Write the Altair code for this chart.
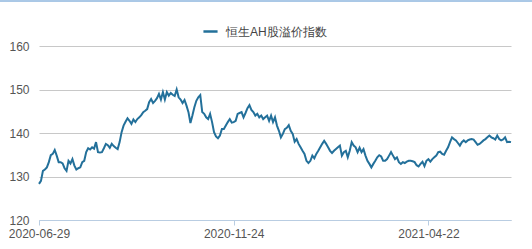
import altair as alt
import pandas as pd

series_name = "恒生AH股溢价指数"

seg1 = [128.3, 129, 131.3, 131.6, 132.1, 133.3, 134.9, 135.2, 136.1, 134.8,
        133.3, 133.3, 133, 131.9, 131.3, 133.6, 133, 134, 132.5, 131.6,
        131.9, 132.1, 133.3, 133.6, 135.6, 136.5, 136.2, 136.7, 136.4, 137.9,
        135.6, 135.5, 135.6, 136.5, 137.5, 137.2, 136.6, 137.5, 137, 136.6]
seg2 = [136.3, 137.9, 140.2, 141.7, 142.6, 143.4, 142.8, 142.1, 143.1,
        142.5, 143.2, 143.6, 144.1, 144.8, 145.1, 145.5, 147.1, 147.8, 146.9,
        147.4, 148, 149, 147.7, 149.4, 147.7, 149.4, 148.6, 149.2, 148.8,
        148.5, 150, 148.2, 147.7, 146.9, 147.6, 146.3, 144.8, 142.3,
        144, 145.9, 147.4]
seg3 = [148.2, 148.7, 144.8, 144.4, 143.6, 143.2, 144.4, 142.5, 140.2, 139.2,
        138.8, 139.4, 140.9, 140.9, 141.7, 142.5, 143.2, 142.4, 142.5, 142.8,
        144.4, 144.6, 144.8, 143.6, 144.6, 145.7, 146.4, 145.3, 144.8, 144,
        144.4, 143.6, 144, 143.2, 143.6, 144, 142.8, 144, 142.5, 143.6, 141.7]
seg4 = [140.5, 139, 139.8, 140.9, 141.2, 141.8, 140.5, 139.8, 138, 138.6,
        137.5, 136.7, 135.9, 135.2, 133.6, 133.1, 133.6, 134.8, 134.2, 135.2,
        135.9, 136.7, 137.5, 138.2, 137.5, 136.7, 135.9, 135.4, 135.9, 136.3,
        136.7, 137.1, 134.8, 135.6, 135.9, 134.4, 135.9, 137.9, 137.1, 136.7,
        135.6]
seg5 = [136.6, 135.6, 136.3, 134.8, 133.6, 132.9, 132.1, 132.9, 133.6, 134.4,
        134.9, 134.6, 133.6, 133.6, 134, 134.8, 135.6, 134.8, 134, 134.4,
        133.3, 132.9, 133.3, 133.1, 133.4, 133.6, 133.6, 133.5, 133.3, 132.6,
        132.3, 132.9, 133.4, 132.4, 133.6, 134, 133.4, 134, 134.4, 134.8,
        135.6]
seg6 = [135.7, 135.2, 135, 135.9, 136.7, 137.9, 139, 138.6, 138.3, 137.7,
        137.1, 137.9, 138.3, 137.9, 138.3, 138.5, 138.6, 138.5, 137.9, 137.3,
        137.5, 137.9, 138.3, 138.6, 139, 139.4, 139, 138.8, 138.5, 139.4,
        138.6, 138.3, 138.5, 139, 137.9, 138, 137.9]

tick_labels = ["2020-06-29", "2020-11-24", "2021-04-22"]
tick_index = [0, 99, 198]
y_ticks = [120, 130, 140, 150, 160]

values = seg1 + seg2 + seg3 + seg4 + seg5 + seg6
df = pd.DataFrame({"i": list(range(len(values))), "v": values, "s": series_name})

label_map = "{" + ",".join(f"'{i}':'{t}'" for i, t in zip(tick_index, tick_labels)) + "}"

line = alt.Chart(df).mark_line(strokeWidth=2, interpolate="linear").encode(
    x=alt.X("i:Q",
            scale=alt.Scale(domain=[0, len(values) - 1], nice=False, zero=False),
            axis=alt.Axis(values=tick_index, labelExpr=f"{label_map}[datum.value]",
                          title=None, grid=False, domainColor="#b9cde2",
                          tickColor="#b9cde2", tickSize=5, labelPadding=3,
                          labelColor="#555555", labelFontSize=12,
                          labelFont="Liberation Sans", labelFlush=False)),
    y=alt.Y("v:Q",
            scale=alt.Scale(domain=[120, 160], nice=False, zero=False),
            axis=alt.Axis(values=y_ticks, title=None, domain=False, ticks=False,
                          gridColor="#c8c8c8", labelPadding=10,
                          labelColor="#555555", labelFontSize=12,
                          labelFont="Liberation Sans")),
    color=alt.Color("s:N", scale=alt.Scale(range=["#23709a"]),
                    legend=alt.Legend(orient="none", legendX=163, legendY=-23,
                                      title=None, symbolType="stroke",
                                      symbolStrokeWidth=2.5, symbolSize=200,
                                      labelFontSize=12, labelColor="#444444",
                                      labelFont="Liberation Sans", padding=0,
                                      labelOffset=7)),
)

border = alt.Chart(df).mark_rule(color="#aac8e6", strokeWidth=1).encode(
    x=alt.value(-39), x2=alt.value(493), y=alt.value(-45)
)

chart = alt.layer(line, border).properties(
    width=472, height=174,
    autosize=alt.AutoSizeParams(type="none"),
    padding={"left": 39, "top": 46, "right": 21, "bottom": 29},
).configure_view(stroke=None)

chart.save("out.html", embed_options={"renderer": "svg", "actions": False})
